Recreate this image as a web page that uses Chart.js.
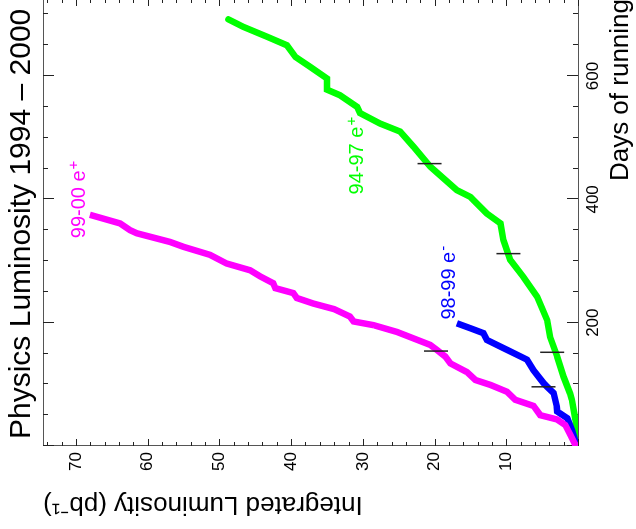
<!DOCTYPE html>
<html><head><meta charset="utf-8">
<script src="https://cdn.jsdelivr.net/npm/chart.js@4/dist/chart.umd.min.js"></script>
<style>
html,body{margin:0;padding:0;width:636px;height:529px;overflow:hidden;background:#fff;}
#c{position:absolute;left:0;top:0;transform-origin:0 0;transform:translate(0px,529px) rotate(-90deg);}
</style></head><body>
<canvas id="c" width="549" height="636"></canvas>
<script>
// ---- data (days of running, integrated luminosity pb^-1) ----
const dayGreen = [0, 42, 75, 85, 112, 145, 177, 204, 242, 274, 302, 334, 361, 377, 404, 415, 453, 485, 510, 523, 540, 550, 569, 578, 596, 615, 631, 650, 664, 680, 692];
const lumGreen = [0, 0.35, 0.85, 1.1, 2.0, 2.9, 3.9, 4.3, 5.7, 7.6, 9.45, 10.4, 10.8, 12.7, 15.0, 16.9, 20.6, 22.9, 24.8, 27.6, 30.4, 30.8, 33.2, 35.0, 35.0, 37.35, 39.4, 40.6, 43.4, 46.7, 48.75];

const dayBlue = [0, 5, 26, 45, 56, 64, 86, 96, 102, 123, 140, 156, 172, 183, 191, 199];
const lumBlue = [0, 0.3, 0.84, 1.5, 2.9, 2.95, 3.4, 4.3, 4.8, 6.2, 7.1, 9.9, 12.7, 13.2, 15.0, 16.9];

const dayMagenta = [0, 2, 18, 34, 43, 50, 65, 75, 88, 99, 107, 120, 134, 145, 156, 164, 185, 196, 202, 210, 222, 231, 240, 248, 256, 264, 275, 285, 296, 310, 323, 331, 345, 350, 361, 375];
const lumMagenta = [0, 0.38, 1.07, 1.77, 2.9, 5.26, 6.2, 8.75, 9.9, 12.2, 14.3, 15.5, 17.8, 18.5, 19.7, 20.6, 25.25, 28.5, 31.3, 31.8, 34.0, 36.9, 39.2, 39.7, 42.2, 42.5, 44.3, 45.7, 49.0, 51.3, 55.0, 56.9, 61.5, 62.45, 63.85, 68.05];

// year-boundary markers on the curves
const markDays = [458, 312, 152, 154, 96];
const markLums = [20.7, 9.7, 3.6, 19.8, 4.8];

// series labels
const seriesNames = ['94-97 e', '98-99 e', '99-00 e'];
const seriesSups = ['+', '-', '+'];
const seriesColors = ['#00ff00', '#0000ff', '#ff00ff'];
const labelDays = [408, 205, 337];
const labelLums = [29.96, 17.1, 68.75];

// axes
const dayTicks = [200, 400, 600];
const lumTicks = [10, 20, 30, 40, 50, 60, 70];
const titleText = 'Physics Luminosity 1994 \u2013 2000';
const xTitle = 'Days of running';
const yTitle = 'Integrated Luminosity (pb\u207B\u00B9)';

const FONT = '"Liberation Sans", Arial, Helvetica, sans-serif';
Chart.defaults.font.family = FONT;

const pts = (ds, ls) => ds.map((d, i) => ({x: d, y: ls[i]}));

const decor = {
  id: 'decor',
  beforeDatasetsDraw(chart) {
    const {ctx, chartArea: a, scales: {x, y}} = chart;
    ctx.save();
    ctx.strokeStyle = '#555';
    ctx.lineWidth = 1;
    ctx.beginPath();
    ctx.moveTo(a.left, a.top + 0.5); ctx.lineTo(a.right + 0.5, a.top + 0.5);
    ctx.lineTo(a.right + 0.5, a.bottom);
    ctx.stroke();
    ctx.strokeStyle = '#222';
    ctx.beginPath();
    for (let v = 0; v <= 74; v += 2) {
      const p = Math.round(y.getPixelForValue(v)) + 0.5;
      const len = v % 10 === 0 ? 7 : 4;
      ctx.moveTo(a.left, p); ctx.lineTo(a.left + len, p);
      ctx.moveTo(a.right, p); ctx.lineTo(a.right - len, p);
    }
    for (let d = 0; d <= 725; d += 50) {
      const p = Math.round(x.getPixelForValue(d)) + 0.5;
      const len = d % 200 === 0 ? 11 : 5;
      ctx.moveTo(p, a.bottom); ctx.lineTo(p, a.bottom - len);
      ctx.moveTo(p, a.top); ctx.lineTo(p, a.top + len);
    }
    ctx.stroke();
    ctx.fillStyle = '#000';
    ctx.font = '30px ' + FONT;
    ctx.textBaseline = 'alphabetic';
    ctx.textAlign = 'left';
    ctx.fillText(titleText, a.left + 7, 30);
    ctx.restore();
  },
  afterDatasetsDraw(chart) {
    const {ctx, scales: {x, y}} = chart;
    ctx.save();
    ctx.textBaseline = 'alphabetic';
    ctx.textAlign = 'left';
    seriesNames.forEach((name, i) => {
      const px = x.getPixelForValue(labelDays[i]);
      const py = y.getPixelForValue(labelLums[i]);
      ctx.fillStyle = seriesColors[i];
      ctx.font = '20px ' + FONT;
      ctx.fillText(name, px, py);
      const w = ctx.measureText(name).width;
      ctx.font = '15px ' + FONT;
      ctx.fillText(seriesSups[i], px + w + 1, py - 7);
    });
    ctx.restore();
  }
};

new Chart(document.getElementById('c'), {
  type: 'line',
  data: {
    datasets: [
      {type: 'scatter', data: pts(markDays, markLums), pointStyle: 'line', pointRadius: 12, rotation: 90,
       borderColor: '#222', borderWidth: 1.5, showLine: false},
      {data: pts(dayMagenta, lumMagenta), borderColor: '#ff00ff', borderWidth: 6.5, pointRadius: 0, tension: 0, fill: false},
      {data: pts(dayBlue, lumBlue), borderColor: '#0000ff', borderWidth: 6.5, pointRadius: 0, tension: 0, fill: false},
      {data: pts(dayGreen, lumGreen), borderColor: '#00ff00', borderWidth: 6.5, pointRadius: 0, tension: 0, fill: false, borderCapStyle: 'round'}
    ]
  },
  options: {
    responsive: false,
    animation: false,
    devicePixelRatio: 1,
    layout: {padding: {top: 43, right: 19, bottom: 0, left: 0}},
    plugins: {legend: {display: false}, tooltip: {enabled: false}, title: {display: false}},
    scales: {
      x: {
        type: 'linear', position: 'bottom', min: 0, max: 725,
        afterFit: s => { s.height = 58; },
        afterBuildTicks: s => { s.ticks = dayTicks.map(v => ({value: v})); },
        grid: {display: false, drawTicks: false},
        border: {display: true, color: '#555', width: 1},
        ticks: {color: '#000', font: {size: 17}, padding: 5, maxRotation: 0, autoSkip: false},
        title: {display: true, text: xTitle, align: 'end', color: '#000', font: {size: 26}, padding: {top: 0, bottom: 0}}
      },
      y: {
        type: 'linear', position: 'left', min: 0, max: 74.6,
        afterFit: s => { s.width = 83; },
        afterBuildTicks: s => { s.ticks = lumTicks.map(v => ({value: v})); },
        grid: {display: false, drawTicks: false},
        border: {display: true, color: '#555', width: 1},
        ticks: {color: '#000', font: {size: 17}, padding: 6, autoSkip: false},
        title: {display: true, text: yTitle, align: 'end', color: '#000', font: {size: 26}, padding: {top: 9, bottom: 0}}
      }
    }
  },
  plugins: [decor]
});
</script>
</body></html>
